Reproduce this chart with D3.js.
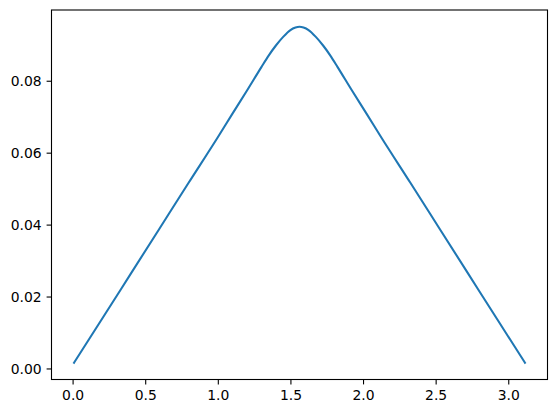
<!DOCTYPE html>
<html>
<head>
<meta charset="utf-8">
<script src="https://cdn.jsdelivr.net/npm/d3@7"></script>
<style>
  body { margin: 0; background: #fff; }
  svg { display: block; }
  .tick text { font-family: "DejaVu Sans", sans-serif; font-size: 13.9px; fill: #000; }
</style>
</head>
<body>
<div id="chart"></div>
<script>
// values
const xs = [0.010, 0.2, 0.4, 0.6, 0.8, 1.0, 1.1, 1.2, 1.3, 1.35, 1.4, 1.45, 1.5, 1.535, 1.5625,
  1.59, 1.625, 1.675, 1.725, 1.775, 1.825, 1.925, 2.025, 2.125, 2.325, 2.525, 2.725, 2.925, 3.115];
const ys = [0.0016, 0.0136, 0.0263, 0.0390, 0.0517, 0.0643, 0.0708, 0.0772, 0.0838, 0.0870, 0.0898, 0.0922, 0.0941, 0.0948, 0.0950,
  0.0948, 0.0941, 0.0922, 0.0898, 0.0870, 0.0838, 0.0772, 0.0708, 0.0643, 0.0517, 0.0390, 0.0263, 0.0136, 0.0016];
const xTicks = [0.0, 0.5, 1.0, 1.5, 2.0, 2.5, 3.0];
const yTicks = [0.00, 0.02, 0.04, 0.06, 0.08];

const W = 556, H = 413;
const margin = { left: 51.5, top: 10, width: 496, height: 369.5 };

const pts = xs.map((x, i) => ({ x, y: ys[i] }));

// matplotlib style 5% margins
const pad = (lo, hi) => [lo - (hi - lo) * 0.05, hi + (hi - lo) * 0.05];
const x = d3.scaleLinear()
  .domain(pad(d3.min(xs), d3.max(xs)))
  .range([0, margin.width]);
const y = d3.scaleLinear()
  .domain(pad(d3.min(ys), d3.max(ys)))
  .range([margin.height, 0]);

const svg = d3.select('#chart').append('svg')
  .attr('width', W)
  .attr('height', H);

const g = svg.append('g')
  .attr('transform', `translate(${margin.left},${margin.top})`);

const line = d3.line()
  .x(d => x(d.x))
  .y(d => y(d.y))
  .curve(d3.curveMonotoneX);

g.append('path')
  .datum(pts)
  .attr('fill', 'none')
  .attr('stroke', '#1f77b4')
  .attr('stroke-width', 2.08)
  .attr('stroke-linejoin', 'round')
  .attr('stroke-linecap', 'square')
  .attr('d', line);

const xAxis = g.append('g')
  .attr('transform', `translate(0,${margin.height})`)
  .call(d3.axisBottom(x).tickValues(xTicks).tickFormat(d3.format('.1f')).tickSize(4.9).tickPadding(4.9));

const yAxis = g.append('g')
  .call(d3.axisLeft(y).tickValues(yTicks).tickFormat(d3.format('.2f')).tickSize(4.9).tickPadding(4.9));

[xAxis, yAxis].forEach(a => {
  a.select('.domain').remove();
  a.selectAll('.tick line').attr('stroke', '#000').attr('stroke-width', 1.1);
});
yAxis.selectAll('.tick text').attr('dy', '0.35em');
xAxis.selectAll('.tick text').attr('dy', '0.75em');

// frame
g.append('rect')
  .attr('width', margin.width)
  .attr('height', margin.height)
  .attr('fill', 'none')
  .attr('stroke', '#000')
  .attr('stroke-width', 1.1);
</script>
</body>
</html>
